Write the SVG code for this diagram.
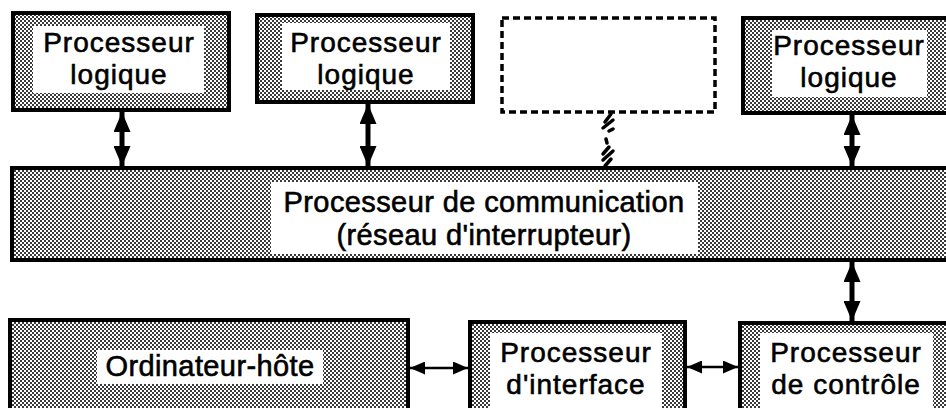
<svg xmlns="http://www.w3.org/2000/svg" width="946" height="408" viewBox="0 0 946 408">
<defs>
  <pattern id="dither" width="4" height="4" patternUnits="userSpaceOnUse">
    <rect width="4" height="4" fill="#ffffff"/>
    <rect x="0" y="0" width="2" height="2" fill="#3a3a3a"/>
    <rect x="2" y="2" width="2" height="2" fill="#3a3a3a"/>
  </pattern>
  <marker id="headV" viewBox="0 0 18 18" refX="18" refY="9" markerWidth="20" markerHeight="17" markerUnits="userSpaceOnUse" orient="auto-start-reverse" preserveAspectRatio="none">
    <path d="M0,0 L18,9 L0,18 Z" fill="#000"/>
  </marker>
  <marker id="headH" viewBox="0 0 14 14" refX="14" refY="7" markerWidth="15" markerHeight="13" markerUnits="userSpaceOnUse" orient="auto-start-reverse" preserveAspectRatio="none">
    <path d="M0,0 L14,7 L0,14 Z" fill="#000"/>
  </marker>
  <style>
    .frame { fill: url(#dither); stroke: #000; stroke-width: 4; }
    .label { fill: #fff; }
    .t { font-family: "Liberation Sans", Arial, sans-serif; font-size: 28px; letter-spacing: 1px; fill: #000; stroke: #000; stroke-width: 0.6; text-anchor: middle; }
    .dash { fill: none; stroke: #000; stroke-width: 3.5; stroke-dasharray: 7 4; }
    .v { stroke: #000; stroke-width: 5; fill: none; marker-start: url(#headV); marker-end: url(#headV); }
    .h { stroke: #000; stroke-width: 2.5; fill: none; marker-start: url(#headH); marker-end: url(#headH); }
    .brk { stroke: #000; stroke-width: 3.5; fill: none; stroke-linecap: round; }
  </style>
</defs>
<rect width="946" height="408" fill="#fff"/>

<g id="logique1">
  <rect class="frame" x="13" y="13" width="216" height="97"/>
  <rect class="label" x="33" y="26" width="171" height="67"/>
  <text class="t" x="119" y="52">Processeur</text>
  <text class="t" x="119" y="84">logique</text>
</g>
<g id="logique2">
  <rect class="frame" x="257" y="15" width="216" height="87"/>
  <rect class="label" x="282" y="23" width="168" height="67"/>
  <text class="t" x="366" y="52">Processeur</text>
  <text class="t" x="366" y="84">logique</text>
</g>
<g id="vide">
  <rect class="dash" x="502" y="18" width="213" height="94"/>
</g>
<g id="logique4">
  <rect class="frame" x="743" y="18" width="206" height="95"/>
  <rect class="label" x="772" y="30" width="155" height="67"/>
  <text class="t" x="849" y="55">Processeur</text>
  <text class="t" x="849" y="87">logique</text>
</g>
<g id="communication">
  <rect class="frame" x="12" y="168" width="940" height="92"/>
  <rect class="label" x="271" y="182" width="427" height="72"/>
  <text class="t" x="484" y="212" style="font-size:29px;letter-spacing:0.4px">Processeur de communication</text>
  <text class="t" x="484" y="245" style="font-size:29px;letter-spacing:0.4px">(réseau d'interrupteur)</text>
</g>
<g id="hote">
  <rect class="frame" x="10" y="320" width="398" height="100"/>
  <rect class="label" x="97" y="350" width="226" height="34"/>
  <text class="t" x="210" y="376" style="font-size:29px;letter-spacing:0.4px">Ordinateur-hôte</text>
</g>
<g id="interface">
  <rect class="frame" x="470" y="322" width="215" height="100"/>
  <rect class="label" x="490" y="333" width="172" height="80"/>
  <text class="t" x="576" y="362">Processeur</text>
  <text class="t" x="576" y="394">d'interface</text>
</g>
<g id="controle">
  <rect class="frame" x="740" y="323" width="210" height="100"/>
  <rect class="label" x="760" y="333" width="173" height="80"/>
  <text class="t" x="846" y="362">Processeur</text>
  <text class="t" x="846" y="394">de contrôle</text>
</g>

<g id="connectors">
  <line class="v" x1="122" y1="112" x2="122" y2="166"/>
  <line class="v" x1="368" y1="104" x2="368" y2="166"/>
  <line class="v" x1="852" y1="115" x2="852" y2="166"/>
  <line class="v" x1="852" y1="262" x2="852" y2="321"/>
  <line class="h" x1="410" y1="368" x2="468" y2="368"/>
  <line class="h" x1="687" y1="367" x2="738" y2="367"/>
  <g class="brk">
    <path d="M605,122 L611,114"/>
    <path d="M603,128 L613,120"/>
    <path d="M609,131 L613,129"/>
    <path d="M606,139 L607,143"/>
    <path d="M603,154 L609,147"/>
    <path d="M603,160 L613,151"/>
    <path d="M605,166 L611,159"/>
  </g>
</g>
</svg>
